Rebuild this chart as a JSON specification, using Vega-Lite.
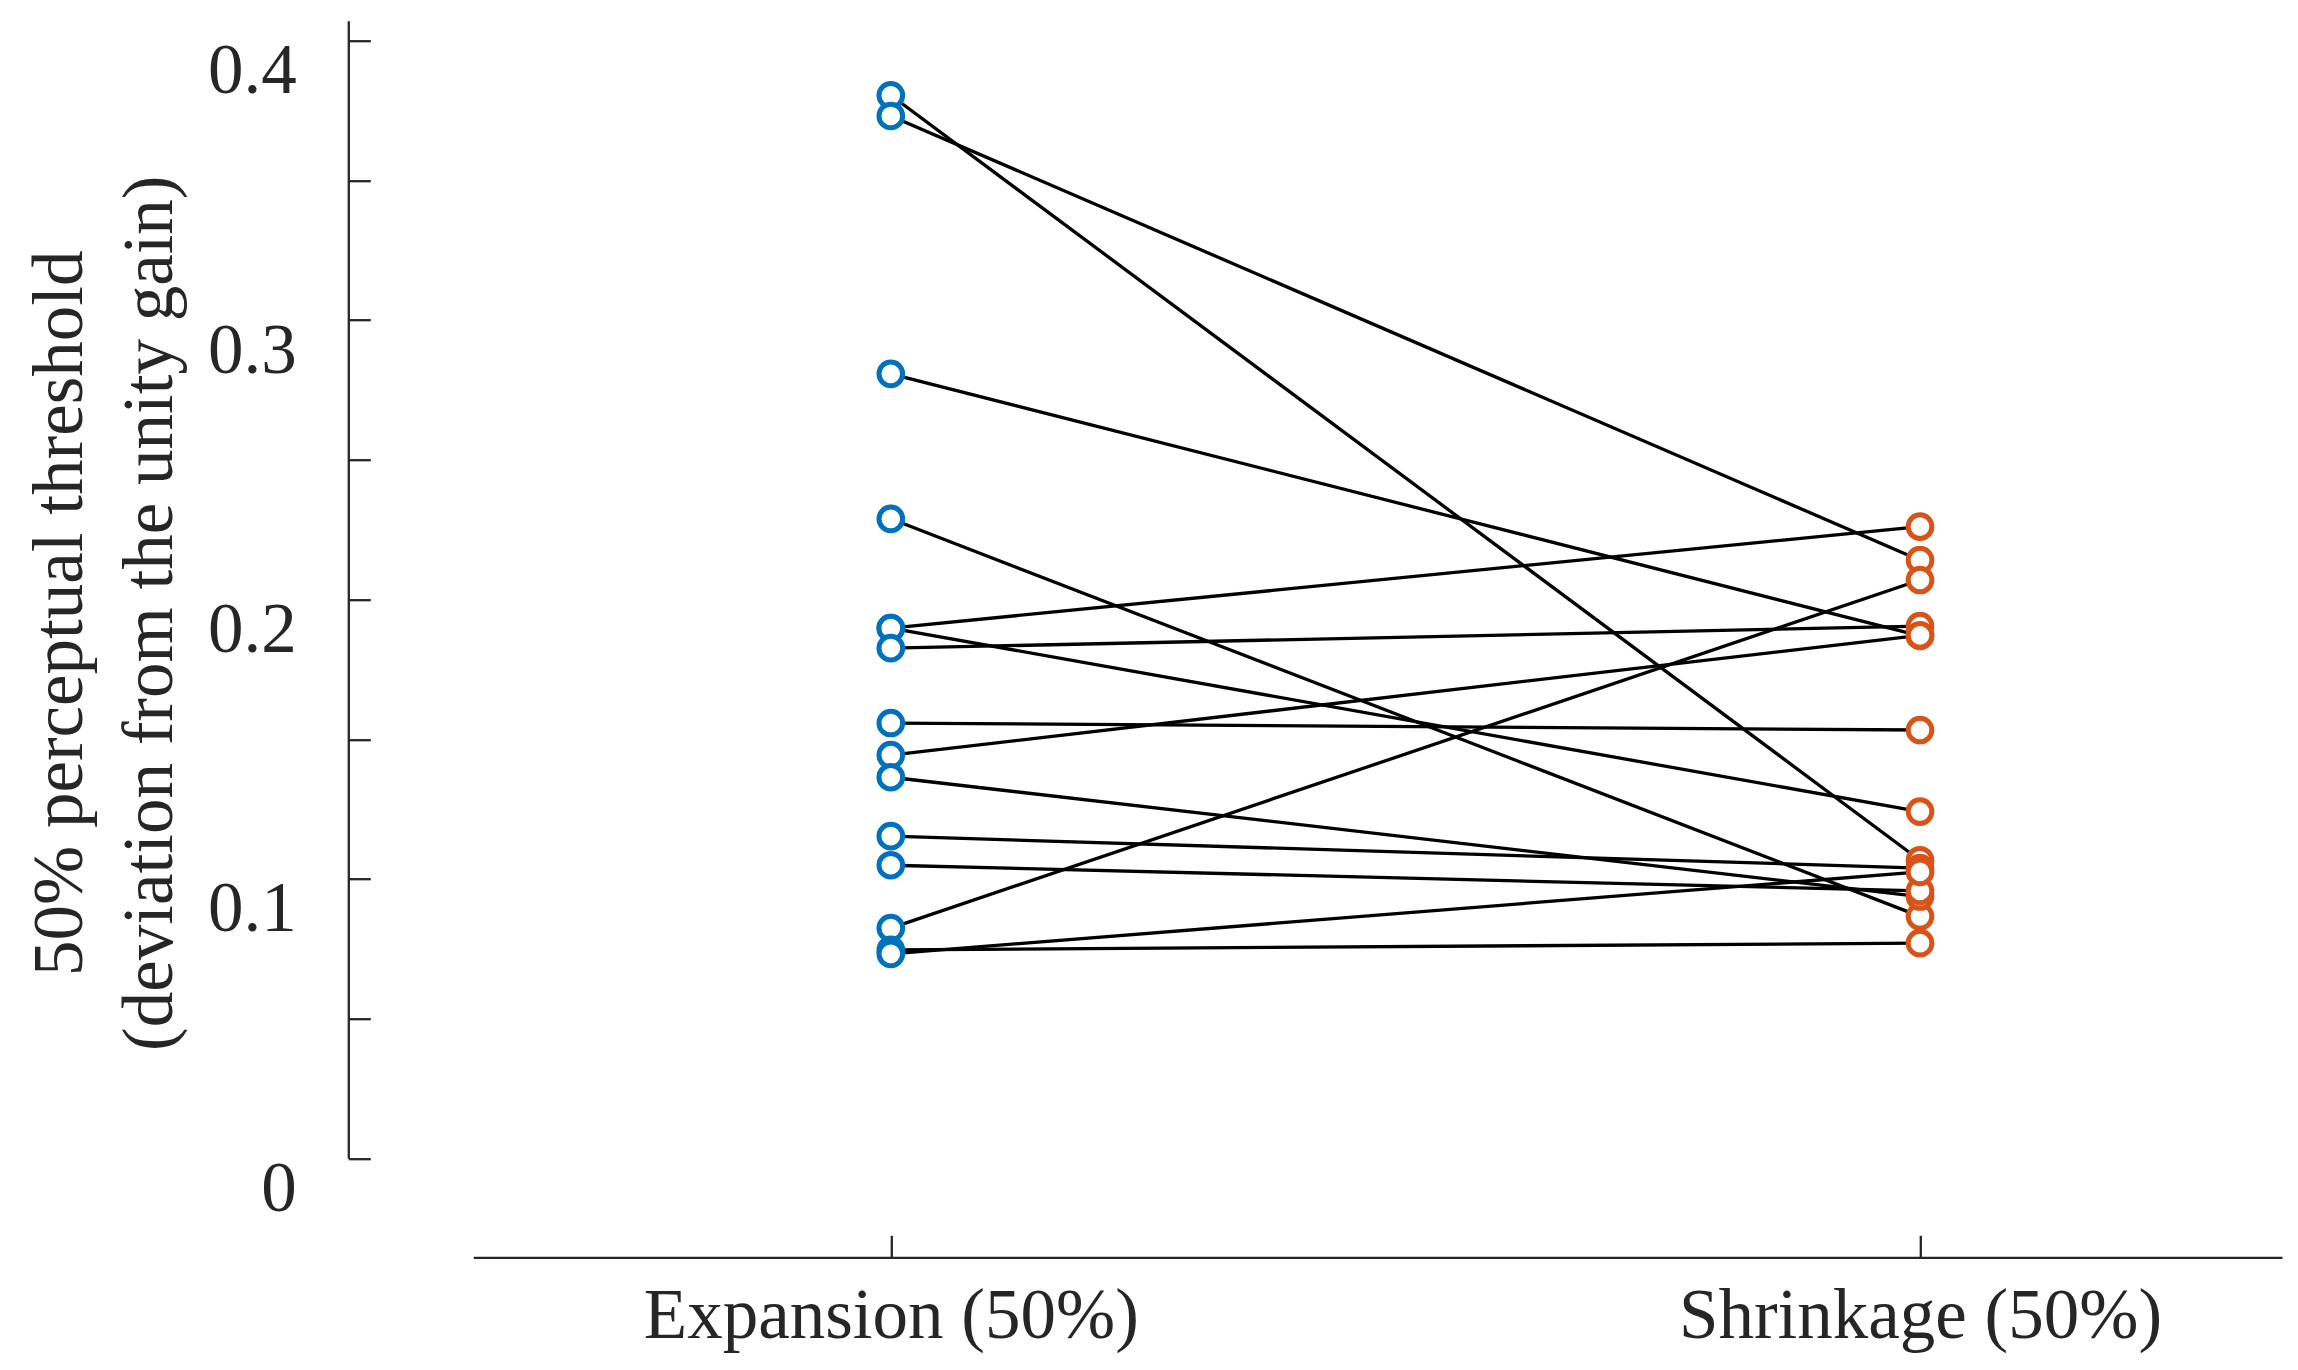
{
  "$schema": "https://vega.github.io/schema/vega-lite/v6.json",
  "width": 1808.7,
  "height": 1137.6,
  "autosize": {"type": "none"},
  "padding": {"left": 473.3, "top": 20.7, "right": 16, "bottom": 211.7},
  "background": "white",
  "config": {"view": {"stroke": null}, "font": "Liberation Serif"},
  "data": {
    "values": [
      {"subject": "s1", "condition": "Expansion (50%)", "threshold": 0.3805},
      {"subject": "s1", "condition": "Shrinkage (50%)", "threshold": 0.1067},
      {"subject": "s2", "condition": "Expansion (50%)", "threshold": 0.3731},
      {"subject": "s2", "condition": "Shrinkage (50%)", "threshold": 0.2141},
      {"subject": "s3", "condition": "Expansion (50%)", "threshold": 0.2808},
      {"subject": "s3", "condition": "Shrinkage (50%)", "threshold": 0.1870},
      {"subject": "s4", "condition": "Expansion (50%)", "threshold": 0.2289},
      {"subject": "s4", "condition": "Shrinkage (50%)", "threshold": 0.0866},
      {"subject": "s5", "condition": "Expansion (50%)", "threshold": 0.1898},
      {"subject": "s5", "condition": "Shrinkage (50%)", "threshold": 0.2261},
      {"subject": "s6", "condition": "Expansion (50%)", "threshold": 0.1898},
      {"subject": "s6", "condition": "Shrinkage (50%)", "threshold": 0.1241},
      {"subject": "s7", "condition": "Expansion (50%)", "threshold": 0.1826},
      {"subject": "s7", "condition": "Shrinkage (50%)", "threshold": 0.1905},
      {"subject": "s8", "condition": "Expansion (50%)", "threshold": 0.1558},
      {"subject": "s8", "condition": "Shrinkage (50%)", "threshold": 0.1533},
      {"subject": "s9", "condition": "Expansion (50%)", "threshold": 0.1443},
      {"subject": "s9", "condition": "Shrinkage (50%)", "threshold": 0.1872},
      {"subject": "s10", "condition": "Expansion (50%)", "threshold": 0.1364},
      {"subject": "s10", "condition": "Shrinkage (50%)", "threshold": 0.0937},
      {"subject": "s11", "condition": "Expansion (50%)", "threshold": 0.1153},
      {"subject": "s11", "condition": "Shrinkage (50%)", "threshold": 0.1039},
      {"subject": "s12", "condition": "Expansion (50%)", "threshold": 0.1049},
      {"subject": "s12", "condition": "Shrinkage (50%)", "threshold": 0.0957},
      {"subject": "s13", "condition": "Expansion (50%)", "threshold": 0.0824},
      {"subject": "s13", "condition": "Shrinkage (50%)", "threshold": 0.2070},
      {"subject": "s14", "condition": "Expansion (50%)", "threshold": 0.0746},
      {"subject": "s14", "condition": "Shrinkage (50%)", "threshold": 0.0770},
      {"subject": "s15", "condition": "Expansion (50%)", "threshold": 0.0732},
      {"subject": "s15", "condition": "Shrinkage (50%)", "threshold": 0.1025}
    ]
  },
  "encoding": {
    "x": {
      "field": "condition",
      "type": "nominal",
      "sort": ["Expansion (50%)", "Shrinkage (50%)"],
      "scale": {"type": "point", "padding": 0.3787, "align": 0.5356},
      "axis": {
        "title": null,
        "offset": 99,
        "labelAngle": 0,
        "labelLimit": 0,
        "labelFont": "Liberation Serif",
        "labelFontSize": 71,
        "labelColor": "#262626",
        "labelPadding": 46.7,
        "tickSize": -22,
        "tickWidth": 2.3,
        "tickColor": "#262626",
        "domainColor": "#262626",
        "domainWidth": 2.3,
        "grid": false
      }
    },
    "y": {
      "field": "threshold",
      "type": "quantitative",
      "scale": {"domain": [0, 0.4072], "nice": false},
      "axis": {
        "title": ["50% perceptual threshold", "(deviation from the unity gain)"],
        "titleFont": "Liberation Serif",
        "titleFontSize": 71,
        "titleFontWeight": "normal",
        "titleColor": "#262626",
        "titleLineHeight": 89.5,
        "titleAngle": 270,
        "titleAlign": "center",
        "titleBaseline": "alphabetic",
        "titleX": -266.8,
        "titleY": 592,
        "titleLimit": 0,
        "offset": 125,
        "values": [0, 0.05, 0.1, 0.15, 0.2, 0.25, 0.3, 0.35, 0.4],
        "labelExpr": "round(datum.value * 100) % 10 == 0 ? (datum.value == 0 ? '0' : format(datum.value, '.1f')) : ''",
        "labelOverlap": false,
        "labelFont": "Liberation Serif",
        "labelFontSize": 71,
        "labelColor": "#262626",
        "labelPadding": 74,
        "labelOffset": 31,
        "tickSize": -22,
        "tickWidth": 2.3,
        "tickColor": "#262626",
        "domainColor": "#262626",
        "domainWidth": 2.3,
        "grid": false
      }
    }
  },
  "layer": [
    {
      "mark": {"type": "line", "color": "black", "strokeWidth": 3.3},
      "encoding": {"detail": {"field": "subject", "type": "nominal"}}
    },
    {
      "mark": {"type": "point", "shape": "circle", "size": 560, "strokeWidth": 5, "fill": "white", "fillOpacity": 1, "opacity": 1, "filled": false},
      "encoding": {
        "stroke": {
          "field": "condition",
          "type": "nominal",
          "scale": {"domain": ["Expansion (50%)", "Shrinkage (50%)"], "range": ["#0072BD", "#D95319"]},
          "legend": null
        }
      }
    }
  ]
}
